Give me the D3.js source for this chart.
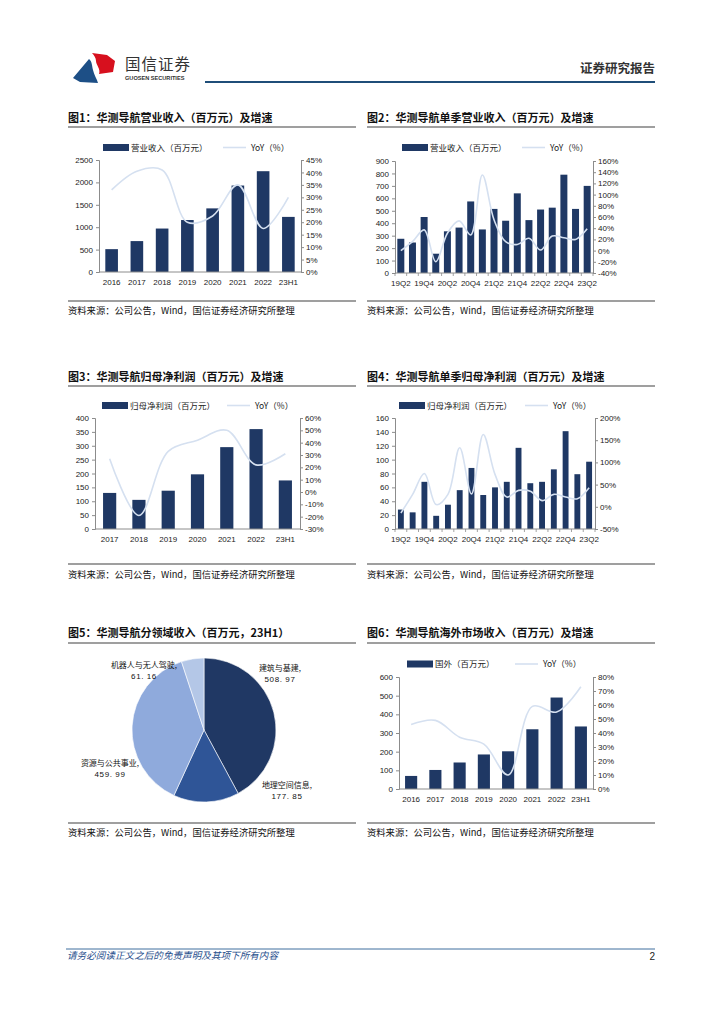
<!DOCTYPE html>
<html><head><meta charset="utf-8">
<script src="https://cdn.jsdelivr.net/npm/d3@7/dist/d3.min.js"></script>
<style>
html,body{margin:0;padding:0;background:#fff;}
svg{display:block;}
text{font-family:"Liberation Sans","Noto Sans CJK SC",sans-serif;}
.cn{font-family:"Noto Sans CJK SC","Liberation Sans",sans-serif;}
</style></head>
<body>
<svg id="page" width="724" height="1024"></svg>
<script>
// ---------- DATA ----------
const years8 = ["2016","2017","2018","2019","2020","2021","2022","23H1"];
const revenue = [510, 690, 970, 1160, 1420, 1930, 2250, 1230];
const revenueYoY = [33, 40.5, 41, 20, 22.5, 35, 17.5, 30];

const quarters = ["19Q2","19Q3","19Q4","20Q1","20Q2","20Q3","20Q4","21Q1","21Q2","21Q3","21Q4","22Q1","22Q2","22Q3","22Q4","23Q1","23Q2"];
const qRevenue = [275, 245, 450, 155, 335, 365, 575, 350, 515, 420, 640, 425, 510, 525, 790, 515, 700];
const qRevenueYoY = [0, 16, 37, -20, 31, 53, 28, 135, 55, 16, 11, 22, 1, 26, 23, 20, 39];

const years7 = ["2017","2018","2019","2020","2021","2022","23H1"];
const profit = [130, 105, 138, 197, 295, 360, 175];
const profitYoY = [27, -19, 33, 42, 50, 22, 31];

const qProfit = [28, 24, 68, 19, 35, 56, 88, 49, 60, 68, 117, 66, 68, 86, 141, 79, 97];
const qProfitYoY = [-14, 28, 75, 5, 28, 133, 29, 163, 73, 22, 37, 35, 14, 28, 22, 18, 43];

const segNames = ["建筑与基建", "地理空间信息", "资源与公共事业", "机器人与无人驾驶"];
const segValues = [508.97, 177.85, 459.99, 61.16];

const overseas = [70, 102, 142, 185, 202, 320, 490, 335];
const overseasYoY = [46, 49, 37, 32, 10, 59, 55, 73];

const leftTicks1 = [0,500,1000,1500,2000,2500], rightTicks1 = [0,5,10,15,20,25,30,35,40,45];
const leftTicks2 = [0,100,200,300,400,500,600,700,800,900], rightTicks2 = [-40,-20,0,20,40,60,80,100,120,140,160];
const leftTicks3 = [0,50,100,150,200,250,300,350,400], rightTicks3 = [-30,-20,-10,0,10,20,30,40,50,60];
const leftTicks4 = [0,20,40,60,80,100,120,140,160], rightTicks4 = [-50,0,50,100,150,200];
const leftTicks6 = [0,100,200,300,400,500,600], rightTicks6 = [0,10,20,30,40,50,60,70,80];

// ---------- STYLE ----------
const BAR = "#1f3864", LINE = "#d5e0f0", AXIS = "#8c8c8c";
const svg = d3.select("#page");

// ---------- HEADER ----------
svg.append("path").attr("fill","#1d4f86")
  .attr("d","M73,78 L89,59 C92,61 92,66 93,70 C94,75 97,79 98,83 L80,82 Z");
svg.append("path").attr("fill","#d7101e")
  .attr("d","M92,53 L107,55 L111,58 L115,61 L113,72 L99,74 C101,69 96,65 96,61 C96,58 94,55 92,53 Z");
svg.append("text").attr("class","cn").attr("x",125).attr("y",70).attr("font-size",15.5).attr("fill","#333").attr("letter-spacing",1).text("国信证券");
svg.append("text").attr("x",125).attr("y",79.5).attr("font-size",5.6).attr("font-weight","bold").attr("fill","#333").text("GUOSEN SECURITIES");
svg.append("line").attr("x1",205).attr("x2",655).attr("y1",82).attr("y2",82).attr("stroke","#1f4e79").attr("stroke-width",2);
svg.append("text").attr("class","cn").attr("x",655).attr("y",73).attr("text-anchor","end").attr("font-size",12.5).attr("font-weight","bold").attr("fill","#333").text("证券研究报告");

// ---------- FOOTER ----------
svg.append("line").attr("x1",66).attr("x2",655).attr("y1",949).attr("y2",949).attr("stroke","#3f6e9e").attr("stroke-width",1);
svg.append("text").attr("class","cn").attr("x",67).attr("y",959).attr("font-size",9.6).attr("font-style","italic").attr("fill","#1f4e8c").text("请务必阅读正文之后的免责声明及其项下所有内容");
svg.append("text").attr("x",655).attr("y",960).attr("text-anchor","end").attr("font-size",10).attr("fill","#222").text("2");

// ---------- FRAME (title + source) ----------
function frame(x, titleY, lineY, srcLineY, srcY, title){
  svg.append("text").attr("class","cn").attr("x",x).attr("y",titleY).attr("font-size",11).attr("font-weight","bold").attr("fill","#111").text(title);
  svg.append("line").attr("x1",x).attr("x2",x+288).attr("y1",lineY).attr("y2",lineY).attr("stroke","#7f7f7f").attr("stroke-width",1.5);
  svg.append("line").attr("x1",x).attr("x2",x+288).attr("y1",srcLineY).attr("y2",srcLineY).attr("stroke","#7f7f7f").attr("stroke-width",1.5);
  svg.append("text").attr("class","cn").attr("x",x).attr("y",srcY).attr("font-size",9.3).attr("fill","#111").text("资料来源：公司公告，Wind，国信证券经济研究所整理");
}

// ---------- COMBO CHART ----------
function combo(o){
  const g = svg.append("g");
  const x = d3.scaleBand().domain(o.cats).range([o.x0, o.x1]).paddingInner(o.pad).paddingOuter(o.pad/2);
  const yl = d3.scaleLinear().domain([o.lt[0], o.lt[o.lt.length-1]]).range([o.yb, o.yt]);
  const yr = d3.scaleLinear().domain([o.rt[0], o.rt[o.rt.length-1]]).range([o.yb, o.yt]);
  // bars
  g.selectAll("rect.bar").data(o.bars).join("rect")
    .attr("x",(d,i)=>x(o.cats[i])).attr("width",x.bandwidth())
    .attr("y",d=>yl(d)).attr("height",d=>yl(0)-yl(d)).attr("fill",BAR);
  // axes
  const la = g.append("g").attr("transform",`translate(${o.x0},0)`)
    .call(d3.axisLeft(yl).tickValues(o.lt).tickSize(3).tickPadding(3).tickFormat(d3.format("d")));
  const ra = g.append("g").attr("transform",`translate(${o.x1},0)`)
    .call(d3.axisRight(yr).tickValues(o.rt).tickSize(3).tickPadding(2).tickFormat(d=>d+"%"));
  const ba = g.append("g").attr("transform",`translate(0,${yl(0)})`)
    .call(d3.axisBottom(x).tickSize(0).tickPadding(7).tickFormat((d,i)=> i % o.every === 0 ? d : ""));
  if(o.every > 1){
    const w = (o.x1-o.x0)/o.cats.length;
    g.selectAll("line.mt").data(d3.range(o.cats.length+1)).join("line")
      .attr("x1",i=>o.x0+i*w).attr("x2",i=>o.x0+i*w)
      .attr("y1",yl(0)).attr("y2",yl(0)+3).attr("stroke",AXIS).attr("stroke-width",0.8);
  }
  [la,ra,ba].forEach(a=>{
    a.selectAll(".domain").attr("stroke",AXIS);
    a.selectAll(".tick line").attr("stroke",AXIS);
    a.selectAll("text").attr("font-size",8).attr("fill","#222").attr("font-family","'Liberation Sans',sans-serif");
  });
  ba.select(".domain").attr("d",`M${o.x0},0H${o.x1}`);
  // line
  const line = d3.line().x((d,i)=>x(o.cats[i])+x.bandwidth()/2).y(d=>yr(d)).curve(d3.curveCatmullRom.alpha(0.5));
  g.append("path").datum(o.yoy).attr("d",line).attr("fill","none").attr("stroke",LINE).attr("stroke-width",1.6);
  // legend
  g.append("rect").attr("x",o.lg[0]).attr("y",o.lg[1]-3.5).attr("width",26).attr("height",7).attr("fill",BAR);
  g.append("text").attr("class","cn").attr("x",o.lg[0]+28).attr("y",o.lg[1]+3).attr("font-size",8.5).attr("fill","#222").text(o.barName);
  g.append("line").attr("x1",o.lg[2]).attr("x2",o.lg[2]+23).attr("y1",o.lg[1]).attr("y2",o.lg[1]).attr("stroke",LINE).attr("stroke-width",1.6);
  g.append("text").attr("class","cn").attr("x",o.lg[2]+28).attr("y",o.lg[1]+3).attr("font-size",8.5).attr("fill","#222").text("YoY（%）");
}

// Chart 1
frame(68,122,127,301,314,"图1：华测导航营业收入（百万元）及增速");
combo({cats:years8,bars:revenue,yoy:revenueYoY,x0:99,x1:301,yt:160,yb:272,lt:leftTicks1,rt:rightTicks1,pad:0.5,every:1,lg:[103,147.5,223],barName:"营业收入（百万元）"});

// Chart 2
frame(367,122,127,301,314,"图2：华测导航单季营业收入（百万元）及增速");
combo({cats:quarters,bars:qRevenue,yoy:qRevenueYoY,x0:395,x1:593,yt:161,yb:273,lt:leftTicks2,rt:rightTicks2,pad:0.4,every:2,lg:[402,147.5,522],barName:"营业收入（百万元）"});

// Chart 3
frame(68,381,386,564,578,"图3：华测导航归母净利润（百万元）及增速");
combo({cats:years7,bars:profit,yoy:profitYoY,x0:95,x1:300,yt:418,yb:529,lt:leftTicks3,rt:rightTicks3,pad:0.55,every:1,lg:[102,405.5,227],barName:"归母净利润（百万元）"});

// Chart 4
frame(367,381,386,564,578,"图4：华测导航单季归母净利润（百万元）及增速");
combo({cats:quarters,bars:qProfit,yoy:qProfitYoY,x0:395,x1:595,yt:418,yb:529,lt:leftTicks4,rt:rightTicks4,pad:0.5,every:2,lg:[399,405.5,525],barName:"归母净利润（百万元）"});

// Chart 5 (pie)
frame(68,637,643,823,836,"图5：华测导航分领域收入（百万元，23H1）");
{
  const cx = 204, cy = 730, r = 72;
  const colors = ["#203864","#2f5597","#8faadc","#b4c7e7"];
  const pie = d3.pie().sort(null).value(d=>d)(segValues);
  const arc = d3.arc().innerRadius(0).outerRadius(r);
  const pg = svg.append("g").attr("transform",`translate(${cx},${cy})`);
  pg.selectAll("path").data(pie).join("path").attr("d",arc).attr("fill",(d,i)=>colors[i]).attr("stroke","#fff").attr("stroke-width",0.6);
  const labelPos = [[280,668],[287,785],[110,763],[144,665]];
  segNames.forEach((n,i)=>{
    const t = svg.append("text").attr("class","cn").attr("text-anchor","middle").attr("font-size",8).attr("fill","#111");
    t.append("tspan").attr("x",labelPos[i][0]).attr("y",labelPos[i][1]+3).text(n+",");
    t.append("tspan").attr("x",labelPos[i][0]).attr("y",labelPos[i][1]+13.5).attr("font-family","'Liberation Sans',sans-serif").attr("letter-spacing",0.6).text(segValues[i].toFixed(2).replace(".", ". "));
  });
}

// Chart 6
frame(367,637,643,823,836,"图6：华测导航海外市场收入（百万元）及增速");
combo({cats:years8,bars:overseas,yoy:overseasYoY,x0:399,x1:593,yt:677,yb:789,lt:leftTicks6,rt:rightTicks6,pad:0.5,every:1,lg:[407,664,515],barName:"国外（百万元）"});
</script>
</body></html>
